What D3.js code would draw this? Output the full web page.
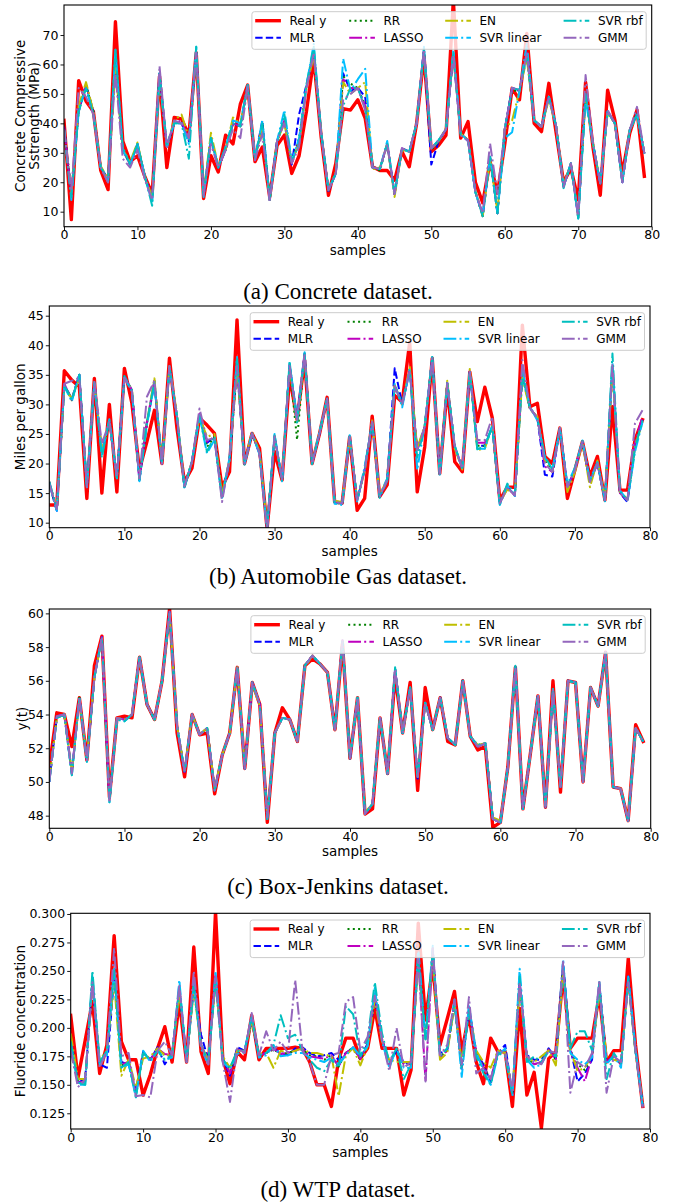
<!DOCTYPE html>
<html><head><meta charset="utf-8">
<script src="https://cdn.jsdelivr.net/npm/d3@7"></script>
<style>body{margin:0;background:#fff}</style>
</head><body>
<svg id="fig" width="676" height="1202"></svg>
<script>
// ---------- shared categories ----------
const seriesNames = ["Real y","MLR","RR","LASSO","EN","SVR linear","SVR rbf","GMM"];
const xTicks = [0,10,20,30,40,50,60,70,80];

// ---------- (a) Concrete dataset ----------
const realA = [41,7.3,54.5,47.5,44,24,17.5,74.5,34,27,29,22,16,56,25,42,41.5,36,64,14.5,29,23.5,36,33,46.5,53,27,32,15,32.5,36,23,29,44,62,35.5,15.6,26.4,45,44.5,48,41.7,25.3,24,24,20.7,30.4,25.3,40,63,30.4,32.6,36,82,35,40.6,20,13,27,16.2,33,51.9,48,70.5,40,37.2,53.6,36.6,20,24.7,14,54,32,15.6,51.3,41,23,36.6,44.5,22];
const mlrA = [39,16,44,53,44,25,21,61,31,26,33,22,14.5,57,32,40,40,34,64,15.5,35,25,31,40,39,52.5,28,41,14,34,41,26,43,53,64,36.6,17,23,57,51,52,49,25,24.5,33,16,31.5,30.4,40,65,26,34,38,63,36.6,34,16.7,8.5,28.7,9.5,38,52,51,64,41,38.9,49,38.9,18.5,26.4,8,50,33.2,19.6,44,40,20,37.7,43.4,29.8];
const rrA = [39,16.5,44,53,44,25,21,60,31,26,33,22,14.5,57,32,40,40.5,34,64.5,15.5,35,25,31,40,39,52.5,27.5,40,14,34,41,26.5,35,53,64,36.6,17.3,23,56,53.5,52,46,25,24,33,16,31.5,30.4,40,65,31,34,38,63.5,36.6,34.3,16.7,8.5,28.7,9.5,38,51,51.3,63,41,38.9,49,38.9,18.5,26.4,8,50,33.2,19.6,44,40,20,37.7,43.4,29.8];
const lassoA = [39,16,45,53,44,25,21,60,31,26,33,22,14.5,57,32,40,41,34,64,15.5,35,25,31,40,39,52.5,27.5,40,14,34,41,26.5,34,52,64,36.6,17.3,23,55,52,52,46,25,24.7,33,16,31.5,30.4,40,65,31.5,34,38,64,36.6,34.3,16.7,9,28.7,9.5,38,52,51.3,64,41,38.9,49,38.9,18.5,26.4,8,50,33.2,19.6,44,40,20,37.7,43.4,29.8];
const enA = [38,16.5,46,54,44,25.5,21,59,31,27,33.5,22,15,55,32,41,43,35,63,16,36.8,25.5,31,42,40,52,28,39,14,34,40,27,33,52,63,36.6,17.3,23.5,54,50,52,54,24.5,25,33,15,31,30.4,40,64,31.5,34,38.5,63,36.6,34.3,17,8.5,28,10,38,41,51,62,41,38.9,48,38.9,19,26.4,8.5,49,33.2,20,43.4,40,20.5,37.7,43,29.8];
const svrLinA = [38,14,45,52,43,25,20,65,31,26,33,22,13,56,32,40,40,33,66,15,35,25,32,41,40,53,28,41,14,34,44.5,27,35,53,67,37,17.5,23,62,51,55,58.5,25,24.5,34,16,31,30.4,40,66,31.5,34.3,38,65,36.6,34,16.5,9,28.7,9.5,35,37,51,67,41,38.9,49,38.9,18.5,26.4,7.7,48,33.2,19.6,44,40,20,37.7,43,29.8];
const svrRbfA = [38,15,44,52,43,25,21,65,32,26,33,22,12,57,33,40,40,28,66,16,35,25,32,40,39,53,28,40,14,33,43,27,33,53,66,37,17.3,23,46,52,52,45,25,24.5,33,16,31.5,30.4,40,65,31.5,34.3,38,64,36,34.3,16.7,8.5,28.7,9.5,38,52,51.3,63,41,38.9,49,38.9,18,26.4,7.7,50,33.2,19.6,44,40,20,37.7,43,29.8];
const gmmA = [38,17,52,49,43,25,20,57,28,25,31,21,14,59.5,32,41,40,35,64,15.5,33,25,31,38,35,52.5,27.5,36.6,13.4,34,40,26.4,32,52,64,36,17.3,23,48,50,52,44.5,25,24.5,33,16,31.5,30.4,40,65,31.5,34.3,38,63,36,34,16.7,9.5,33.2,16,38,52,51.3,64,41,38.9,49,38.9,18.5,26.4,8.5,56.4,33.2,19.6,44.5,40,20,37.7,45.6,29.8];
const yTicksA = [10,20,30,40,50,60,70];

// ---------- (b) Automobile Gas dataset ----------
const realB = [13,13,35.7,34.1,33,14.1,34.4,15,30,15.2,36.1,30.2,18.9,23.7,29,20,37.8,26,16.9,19.2,27.7,26.5,25.1,16,18.6,44.3,20,25.1,22.6,9,22,17.2,34.7,27.4,37.5,20,25.1,31.2,13.5,13.3,24.5,12.1,14.1,28,14.4,16.4,31.5,30.4,40.5,15.2,22.8,37.8,18.3,32.7,20.3,18.6,35.5,27.1,32.9,27.7,13.8,16,16,43.4,29.6,30.2,21.2,20,26,14.1,18.9,23.7,17.8,21.2,13.8,29.6,15.5,15.5,24,27.4];
const mlrB = [16.5,12,33.3,31,35,16,33.8,22,27,17.8,34.7,32.4,17.2,26.8,33.5,20,36.5,28,16,20.3,28.2,23.5,24.5,14.4,20.6,36,20,25.1,21.7,9,24.6,17.2,36.7,27.4,38.6,20,25.1,30.9,13.5,13.3,24.5,13.8,18.9,27.1,14.4,17.2,36.1,30,35.8,22.3,26.2,37.8,18.3,33.6,22.8,19.2,35.5,23,23,26.2,13.3,16,14.6,35,29.4,27.7,18.1,17.8,26,16,18.9,23.7,16.9,20,13.8,36.3,15,13.5,22.8,27.4];
const rrB = [16.9,12.2,33.3,30.7,35,16,33.8,21.8,27,17.8,34.7,32.4,17.2,26.8,34,20,36.3,28,16,20.3,28.2,22.8,24.5,14.4,20.6,36.3,20,25.1,21.7,9,24.6,17.2,36.7,24,38.6,20,25.1,30.9,13.5,13.3,24.5,13.8,18.9,27.1,14.4,17.2,33.1,30,35.8,22.3,26.2,37.8,18.3,33.6,22.8,19.2,35.5,23,23,26.2,13.3,16,14.6,35,29.4,27.7,20.6,18.6,26,16,18.9,23.7,16.9,20,13.8,36.3,15,13.8,22.8,27.4];
const lassoB = [16.9,12.2,33.5,30.8,35,16,33.8,22,27,17.8,34.7,32.4,17.2,27,34,20,36.3,28,16,20.3,28.4,23.7,24.5,14.4,20.6,36.3,20,25.1,21.7,9,24.6,17.2,36.7,27.4,38.6,20,25.1,30.9,13.5,13.3,24.5,13.8,18.9,27.1,14.4,17.2,33.1,30,35.8,22.3,26.2,37.8,18.3,33.6,22.8,19.2,35.5,23.5,23.5,26.2,13.3,16,14.6,35.5,29.4,27.7,19.5,18.6,26,16,18.9,23.7,16.9,20,13.8,36.3,15,13.8,23.5,28];
const enB = [16.5,12.5,33,31,34.5,16.2,33.5,22.5,27,17.6,34.5,32.6,17.4,27,34.4,20.2,36.5,28.5,16.2,20.3,28,24.5,25,14.8,20.6,36,20.3,25.3,22,9.3,24.3,17.4,36.3,27,38.2,20.2,25.3,30.6,13.7,13.5,24.3,14,18.6,27.3,14.6,17.4,33.3,30,36.5,22.5,26.5,37.5,18.5,34,22.5,19,36,22.3,22.5,26.4,13.5,15.6,14.8,34.5,29.2,27.9,20.6,18.6,26,15.2,18.6,23.5,16,20.5,14,35.8,15.2,14,23,27];
const svrLinB = [16.5,12,33,30.5,35,16,33.5,21.5,27.5,17.5,34.5,32.2,17,26.5,33.5,20,36,28,16,20.3,28,21.7,24,14.2,21,38,20,25.1,21.5,9,25,17,37,27.8,38.8,20,25.5,31,13.2,13,24.8,13.6,19.5,26.8,14.6,17.5,33.5,29.5,36,18.9,26.6,38,18,33.2,23,19,35.5,22.5,22.5,26.5,13,16.3,14.5,36,29.6,27.3,21,19,25.7,16.5,19.3,23.9,17.2,20.2,13.6,37,15.5,13.7,22,27];
const svrRbfB = [16.9,12.4,33.2,30.8,35,16.2,33.8,21,27.5,17.6,34.8,32.4,17.5,27,33.8,20.2,36.2,28,15.8,20.5,28.2,22,24.6,14,20.4,38,19.8,25,21.9,9.2,24.8,17.2,37.3,26.6,38.6,19.9,25.3,31,13.3,13.2,24.6,13.8,19,27,14.2,17.1,33.1,30.2,35.6,21,26.2,38,18.2,33.6,23,19.3,35.6,22.4,23,26.3,13.1,16.6,14.8,35,29.4,27.7,21.2,19,26,16.2,19.2,23.8,17,20.2,13.7,38.6,15.3,13.8,22.6,27.3];
const gmmB = [16.5,12.3,33.5,34,34.5,16,33.8,23.4,27,17.8,34.5,32.4,17.5,31.3,34,20,36.5,28,16.2,20.3,29.3,24,24.3,13.5,20.8,36.5,20,25.1,21.7,8.5,24.6,17.2,36.5,27.4,38.6,20,25.1,30.9,13.5,13.3,24.5,13.8,18.9,27.1,14.4,17.2,33.1,30,35.8,22.3,26.2,37.8,18.3,33.6,22.8,19.2,35.5,24,24,27.9,13.3,16,14.6,37.5,29.4,27.7,20,18.6,26,16,18.9,23.7,16.9,20,13.8,36.8,15,13.8,26.8,29];
const yTicksB = [10,15,20,25,30,35,40,45];

// ---------- (c) Box-Jenkins dataset ----------
const realC = [50.9,54.1,54,52.1,55,51.3,56.9,58.65,49.1,53.8,53.9,53.8,57.4,54.6,53.7,56,60.3,52.9,50.3,54,52.8,52.9,49.3,51.6,52.9,56.8,50.8,55.9,54.6,47.6,52.9,54.4,53.7,52.4,56.9,57.3,57,56.5,53.1,58.2,51.4,55,48.1,48.4,53.8,50.5,56.3,52.9,55.9,49.5,55.6,53.1,55,52.4,52.2,56,52.7,51.9,52.1,47.3,47.6,50.9,56.8,48.4,51.7,55.1,48.5,56,49.4,56,55.9,50,55.6,54.5,57.7,49.7,49.6,47.7,53.4,52.4];
const mlrC = [50,53.9,54,50.5,55,51.3,56.2,58.6,48.9,53.8,53.7,54,57.4,54.6,53.7,56,60.1,53.3,50.6,54,52.8,53.2,49.5,51.6,52.9,56.8,50.8,55.9,54.6,47.9,52.9,53.8,53.7,52.4,56.9,57.5,57,56.5,53.1,58.4,51.4,55,48.1,48.7,53.8,50.5,56.7,52.9,55.6,50.2,54.7,53.1,55,52.6,52.2,56,52.7,52.1,52.3,47.8,47.6,50.9,56.8,48.4,51.7,55.1,48.5,55.5,49.7,56,55.9,50,55.6,54.5,57.7,49.7,49.6,47.7,53.2,52.4];
const rrC = [50.1,53.9,54,50.5,55,51.3,56.2,58.5,48.9,53.8,53.7,54,57.4,54.6,53.7,56,60,53.3,50.6,54,52.8,53.2,49.5,51.6,52.9,56.7,50.8,55.9,54.6,47.9,52.9,53.8,53.7,52.4,56.9,57.5,57,56.5,53.1,58.3,51.4,55,48.1,48.7,53.8,50.5,56.7,52.9,55.6,50.3,54.7,53.1,55,52.6,52.2,56,52.7,52.1,52.3,47.8,47.6,50.9,56.8,48.4,51.7,55.1,48.5,55.5,49.7,56,55.9,50,55.6,54.5,57.7,49.7,49.6,47.7,53.2,52.4];
const lassoC = [50,53.9,54,50.6,55,51.3,56.2,58.6,48.9,53.8,53.7,54,57.4,54.6,53.7,56,60.1,53.3,50.6,54,52.8,53.2,49.5,51.6,52.9,56.8,50.8,55.9,54.6,47.9,52.9,53.8,53.7,52.4,56.9,57.5,57,56.5,53.1,58.4,51.4,55,48.1,48.7,53.8,50.5,56.7,52.9,55.6,50.3,54.7,53.1,55,52.6,52.2,56,52.7,52.1,52.3,47.8,47.6,50.9,56.8,48.4,51.7,55.1,48.5,55.5,49.7,56,55.9,50,55.6,54.5,57.7,49.7,49.6,47.7,53.2,52.4];
const enC = [50.1,53.8,54,50.6,54.9,51.4,56.2,58.5,49,53.8,53.7,54,57.3,54.6,53.7,56,60,53.3,50.7,54,52.8,53.2,49.6,51.6,52.9,56.8,50.9,55.8,54.5,48,52.9,53.8,53.7,52.4,56.8,57.5,57,56.5,53.1,58.3,51.5,55,48.2,48.7,53.8,50.6,56.6,52.9,55.6,50.3,54.7,53.1,55,52.6,52.2,55.9,52.7,52.2,52.3,47.9,47.7,50.9,56.7,48.5,51.7,55,48.6,55.5,49.7,56,55.8,50,55.6,54.5,57.6,49.7,49.6,47.8,53.2,52.4];
const svrLinC = [50,53.8,54,50.4,55,51.2,56.2,58.6,48.8,53.7,53.6,54,57.4,54.6,53.7,56,60,53.3,50.6,54,52.8,53.2,49.5,51.6,52.9,56.8,50.8,55.9,54.6,47.8,52.9,53.8,53.7,52.4,56.9,57.5,57,56.5,53.1,58.4,51.4,55,48.1,48.7,53.8,50.5,56.7,52.9,55.6,50.3,54.7,53.1,55,52.6,52.2,56,52.7,52.1,52.3,47.8,47.6,50.9,56.8,48.4,51.7,55.1,48.5,55.5,49.7,56,55.9,50,55.6,54.5,57.7,49.7,49.6,47.7,53.2,52.4];
const svrRbfC = [50,53.8,54,50.4,55,51.2,56.2,58.6,48.8,53.7,53.6,54,57.4,54.6,53.7,56,60,53.3,50.6,54,52.8,53.2,49.5,51.6,52.9,56.8,50.8,55.9,54.6,47.8,52.9,53.8,53.7,52.4,56.9,57.5,57,56.5,53.1,58.4,51.4,55,48.1,48.7,53.8,50.5,56.8,52.9,55.6,50.3,54.7,53.1,55,52.6,52.2,56,52.7,52.2,52.3,47.8,47.6,50.9,56.9,48.4,51.7,55.1,48.5,55.5,49.7,56,55.9,50,55.6,54.5,57.7,49.7,49.6,47.7,53.2,52.4];
const gmmC = [50,53.9,54,50.5,55,51.3,56.2,58.6,48.9,53.8,53.7,54,57.4,54.6,53.7,56,60.1,53.3,50.6,54,52.8,53.2,49.5,51.6,52.9,56.8,50.8,55.9,54.6,47.9,52.9,53.8,53.7,52.4,56.9,57.5,57,56.5,53.1,58.4,51.4,55,48.1,48.7,53.8,50.5,56.7,52.9,55.6,50.3,54.7,53.1,55,52.6,52.2,56,52.7,52.1,52.3,47.8,47.6,50.9,56.8,48.4,51.7,55.1,48.5,55.5,49.7,56,55.9,50,55.6,54.5,57.7,49.7,49.6,47.7,53.2,52.4];
const yTicksC = [48,50,52,54,56,58,60];

// ---------- (d) WTP dataset ----------
const realD = [0.211,0.156,0.189,0.223,0.16,0.185,0.281,0.188,0.172,0.172,0.141,0.159,0.182,0.201,0.17,0.223,0.17,0.271,0.179,0.16,0.302,0.173,0.151,0.179,0.172,0.211,0.172,0.182,0.182,0.182,0.182,0.183,0.182,0.17,0.15,0.15,0.131,0.172,0.191,0.191,0.173,0.182,0.217,0.182,0.182,0.182,0.141,0.163,0.292,0.207,0.255,0.185,0.208,0.232,0.179,0.211,0.17,0.151,0.191,0.179,0.179,0.131,0.217,0.141,0.161,0.112,0.173,0.179,0.246,0.182,0.191,0.191,0.191,0.229,0.17,0.18,0.18,0.261,0.185,0.131];
const mlrD = [0.19,0.152,0.155,0.24,0.168,0.165,0.245,0.17,0.168,0.145,0.179,0.172,0.183,0.168,0.178,0.232,0.172,0.235,0.194,0.172,0.245,0.173,0.158,0.183,0.18,0.205,0.176,0.178,0.182,0.178,0.176,0.182,0.183,0.178,0.175,0.176,0.178,0.172,0.178,0.182,0.174,0.186,0.225,0.19,0.168,0.18,0.17,0.168,0.26,0.19,0.265,0.178,0.18,0.22,0.168,0.215,0.178,0.168,0.152,0.178,0.185,0.142,0.24,0.176,0.172,0.172,0.182,0.173,0.258,0.182,0.153,0.16,0.172,0.238,0.17,0.175,0.168,0.245,0.18,0.133];
const rrD = [0.191,0.153,0.153,0.243,0.17,0.179,0.249,0.167,0.17,0.142,0.178,0.173,0.182,0.176,0.176,0.235,0.172,0.237,0.186,0.17,0.244,0.174,0.162,0.181,0.179,0.207,0.176,0.178,0.181,0.177,0.178,0.18,0.181,0.176,0.175,0.172,0.176,0.166,0.178,0.183,0.172,0.185,0.228,0.19,0.168,0.181,0.168,0.168,0.262,0.192,0.268,0.175,0.18,0.222,0.165,0.218,0.179,0.166,0.155,0.179,0.18,0.142,0.238,0.174,0.168,0.17,0.181,0.172,0.253,0.18,0.168,0.163,0.175,0.236,0.17,0.175,0.168,0.243,0.18,0.132];
const lassoD = [0.19,0.152,0.153,0.242,0.17,0.178,0.25,0.168,0.17,0.142,0.177,0.172,0.182,0.177,0.176,0.236,0.173,0.238,0.185,0.17,0.246,0.173,0.16,0.181,0.179,0.208,0.176,0.178,0.182,0.177,0.178,0.18,0.182,0.175,0.174,0.173,0.176,0.166,0.178,0.183,0.173,0.185,0.23,0.19,0.168,0.181,0.168,0.168,0.263,0.153,0.27,0.174,0.18,0.223,0.164,0.218,0.179,0.165,0.155,0.179,0.18,0.141,0.24,0.173,0.168,0.17,0.181,0.172,0.255,0.18,0.165,0.153,0.175,0.238,0.17,0.175,0.168,0.243,0.18,0.131];
const enD = [0.195,0.155,0.155,0.238,0.172,0.18,0.24,0.158,0.172,0.148,0.173,0.175,0.182,0.176,0.176,0.23,0.173,0.232,0.185,0.172,0.24,0.175,0.165,0.18,0.18,0.205,0.177,0.178,0.165,0.18,0.178,0.18,0.182,0.178,0.178,0.176,0.176,0.14,0.176,0.182,0.167,0.184,0.225,0.188,0.172,0.17,0.17,0.17,0.255,0.19,0.262,0.172,0.178,0.22,0.17,0.215,0.18,0.17,0.165,0.18,0.178,0.145,0.235,0.175,0.17,0.175,0.18,0.167,0.25,0.18,0.162,0.165,0.176,0.232,0.175,0.172,0.17,0.24,0.178,0.134];
const svrLinD = [0.185,0.15,0.15,0.245,0.168,0.176,0.252,0.165,0.168,0.139,0.18,0.17,0.18,0.172,0.174,0.242,0.17,0.24,0.182,0.168,0.25,0.17,0.164,0.177,0.18,0.21,0.174,0.176,0.185,0.175,0.176,0.178,0.178,0.174,0.172,0.17,0.174,0.168,0.176,0.183,0.175,0.184,0.235,0.188,0.165,0.182,0.165,0.165,0.27,0.19,0.272,0.176,0.182,0.225,0.157,0.22,0.178,0.163,0.15,0.176,0.182,0.14,0.252,0.172,0.165,0.168,0.18,0.175,0.26,0.178,0.172,0.168,0.174,0.24,0.168,0.176,0.165,0.245,0.182,0.13];
const svrRbfD = [0.188,0.152,0.15,0.25,0.17,0.18,0.25,0.165,0.17,0.139,0.178,0.172,0.18,0.172,0.176,0.235,0.172,0.236,0.185,0.17,0.24,0.172,0.165,0.18,0.178,0.21,0.176,0.178,0.185,0.211,0.191,0.194,0.18,0.172,0.165,0.162,0.172,0.165,0.219,0.212,0.175,0.19,0.24,0.195,0.17,0.182,0.155,0.168,0.26,0.19,0.268,0.175,0.182,0.222,0.165,0.215,0.175,0.16,0.15,0.178,0.175,0.142,0.245,0.17,0.175,0.17,0.18,0.175,0.252,0.182,0.197,0.197,0.18,0.24,0.155,0.178,0.168,0.243,0.178,0.132];
const gmmD = [0.18,0.148,0.155,0.24,0.165,0.18,0.27,0.175,0.178,0.14,0.141,0.139,0.18,0.188,0.176,0.238,0.17,0.25,0.185,0.168,0.245,0.17,0.135,0.182,0.178,0.213,0.176,0.197,0.18,0.188,0.178,0.242,0.18,0.17,0.15,0.15,0.176,0.178,0.223,0.227,0.18,0.192,0.228,0.19,0.162,0.2,0.165,0.17,0.262,0.153,0.27,0.176,0.185,0.225,0.168,0.227,0.16,0.165,0.155,0.18,0.178,0.145,0.24,0.175,0.17,0.168,0.18,0.178,0.258,0.143,0.17,0.165,0.178,0.242,0.143,0.175,0.17,0.24,0.18,0.13];
const yTicksD = [0.125,0.15,0.175,0.2,0.225,0.25,0.275,0.3];

// ---------- line styles, one per series ----------
const styles = [
  {color:"#ff0000", width:3.4, dash:null, cap:"square"},
  {color:"#0000ff", width:2, dash:"7.4,3.2", cap:"butt"},
  {color:"#008000", width:2, dash:"2,3.3", cap:"butt"},
  {color:"#bf00bf", width:2, dash:"12.8,3.2,2,3.2", cap:"butt"},
  {color:"#bfbf00", width:2, dash:"12.8,3.2,2,3.2", cap:"butt"},
  {color:"#00bfff", width:2, dash:"12.8,3.2,2,3.2", cap:"butt"},
  {color:"#00bfbf", width:2, dash:"12.8,3.2,2,3.2", cap:"butt"},
  {color:"#9467bd", width:2, dash:"12.8,3.2,2,3.2", cap:"butt"}
];

// ---------- panel layout ----------
const panels = [
  {key:"a", series:[realA,mlrA,rrA,lassoA,enA,svrLinA,svrRbfA,gmmA], yTicks:yTicksA, fmt:d3.format("d"),
   box:{l:64,r:651.7,t:5,b:226.7}, dom:[4.9,80.2], ylabel:["Concrete Compressive","Sstrength (MPa)"], ylx:[20,34],
   caption:"(a) Concrete dataset.", capY:299},
  {key:"b", series:[realB,mlrB,rrB,lassoB,enB,svrLinB,svrRbfB,gmmB], yTicks:yTicksB, fmt:d3.format("d"),
   box:{l:49.3,r:650,t:306,b:527.7}, dom:[9.15,46.64], ylabel:["Miles per gallon"], ylx:[20],
   caption:"(b) Automobile Gas dataset.", capY:584},
  {key:"c", series:[realC,mlrC,rrC,lassoC,enC,svrLinC,svrRbfC,gmmC], yTicks:yTicksC, fmt:d3.format("d"),
   box:{l:49.3,r:650.7,t:609,b:828.3}, dom:[47.25,60.26], ylabel:["y(t)"], ylx:[21.5],
   caption:"(c) Box-Jenkins dataset.", capY:894},
  {key:"d", series:[realD,mlrD,rrD,lassoD,enD,svrLinD,svrRbfD,gmmD], yTicks:yTicksD, fmt:d3.format(".3f"),
   box:{l:70.7,r:650,t:913.3,b:1129}, dom:[0.1112,0.3006], ylabel:["Fluoride concentration"], ylx:[20],
   caption:"(d) WTP dataset.", capY:1197}
];

const svg = d3.select("#fig");
svg.append("rect").attr("width",676).attr("height",1202).attr("fill","#fff");
const sans = "'DejaVu Sans', sans-serif";

panels.forEach(p => {
  const B = p.box;
  const x = d3.scaleLinear().domain([0,80]).range([B.l,B.r]);
  const y = d3.scaleLinear().domain(p.dom).range([B.b,B.t]);
  const g = svg.append("g");

  const clipId = "clip-" + p.key;
  svg.append("defs").append("clipPath").attr("id",clipId)
    .append("rect").attr("x",B.l).attr("y",B.t).attr("width",B.r-B.l).attr("height",B.b-B.t);

  // series lines
  const line = d3.line().x((d,i)=>x(i)).y(d=>y(d));
  const lines = g.append("g").attr("clip-path",`url(#${clipId})`);
  p.series.forEach((s,k) => {
    const st = styles[k];
    lines.append("path").datum(s).attr("d",line)
      .attr("fill","none").attr("stroke",st.color).attr("stroke-width",st.width)
      .attr("stroke-dasharray",st.dash).attr("stroke-linecap",st.cap).attr("stroke-linejoin","round");
  });

  // axes
  const xAxis = d3.axisBottom(x).tickValues(xTicks).tickSize(3.5).tickPadding(2).tickFormat(d3.format("d"));
  const yAxis = d3.axisLeft(y).tickValues(p.yTicks).tickSize(3.5).tickPadding(2).tickFormat(p.fmt);
  const gx = g.append("g").attr("transform",`translate(0,${B.b})`).call(xAxis);
  const gy = g.append("g").attr("transform",`translate(${B.l},0)`).call(yAxis);
  [gx,gy].forEach(a => {
    a.select(".domain").remove();
    a.selectAll("line").attr("stroke","#000").attr("stroke-width",0.9);
    a.selectAll("text").attr("font-family",sans).attr("font-size",12.5).attr("fill","#000");
  });
  gx.selectAll("text").attr("dy",null).attr("y",12.8);

  // frame
  g.append("rect").attr("x",B.l).attr("y",B.t).attr("width",B.r-B.l).attr("height",B.b-B.t)
    .attr("fill","none").attr("stroke","#000").attr("stroke-width",1.1);

  // axis titles
  g.append("text").attr("x",(B.l+B.r)/2).attr("y",B.b+28).attr("text-anchor","middle")
    .attr("font-family",sans).attr("font-size",13.5).attr("fill","#000").text("samples");
  p.ylabel.forEach((t,i) => {
    g.append("text").attr("transform",`translate(${p.ylx[i]},${(B.t+B.b)/2}) rotate(-90)`)
      .attr("text-anchor","middle").attr("dominant-baseline","central")
      .attr("font-family",sans).attr("font-size",13.5).attr("fill","#000").text(t);
  });

  // legend (4 columns, filled column by column)
  const lgW = 394.3, lgH = 37.6;
  const lx = B.r - 5.5 - lgW, ly = B.t + 6.7;
  const lg = g.append("g").attr("transform",`translate(${lx},${ly})`);
  lg.append("rect").attr("width",lgW).attr("height",lgH).attr("rx",2.5)
    .attr("fill","#fff").attr("fill-opacity",0.8).attr("stroke","#cccccc").attr("stroke-width",1);
  const colX = [3.3,97.3,193.3,311.7];
  seriesNames.forEach((name,k) => {
    const col = Math.floor(k/2), row = k%2;
    const cy = row === 0 ? 9 : 26;
    const st = styles[k];
    lg.append("line").attr("x1",colX[col]).attr("x2",colX[col]+25.7).attr("y1",cy).attr("y2",cy)
      .attr("stroke",st.color).attr("stroke-width",st.width).attr("stroke-dasharray",st.dash)
      .attr("stroke-linecap","butt");
    lg.append("text").attr("x",colX[col]+34.3).attr("y",cy).attr("dominant-baseline","central")
      .attr("font-family",sans).attr("font-size",12).attr("fill","#000").text(name);
  });

  // caption
  svg.append("text").attr("x",338).attr("y",p.capY).attr("text-anchor","middle")
    .attr("font-family","'Liberation Serif', 'Times New Roman', serif").attr("font-size",23)
    .attr("fill","#000").text(p.caption);
});
</script>
</body></html>
